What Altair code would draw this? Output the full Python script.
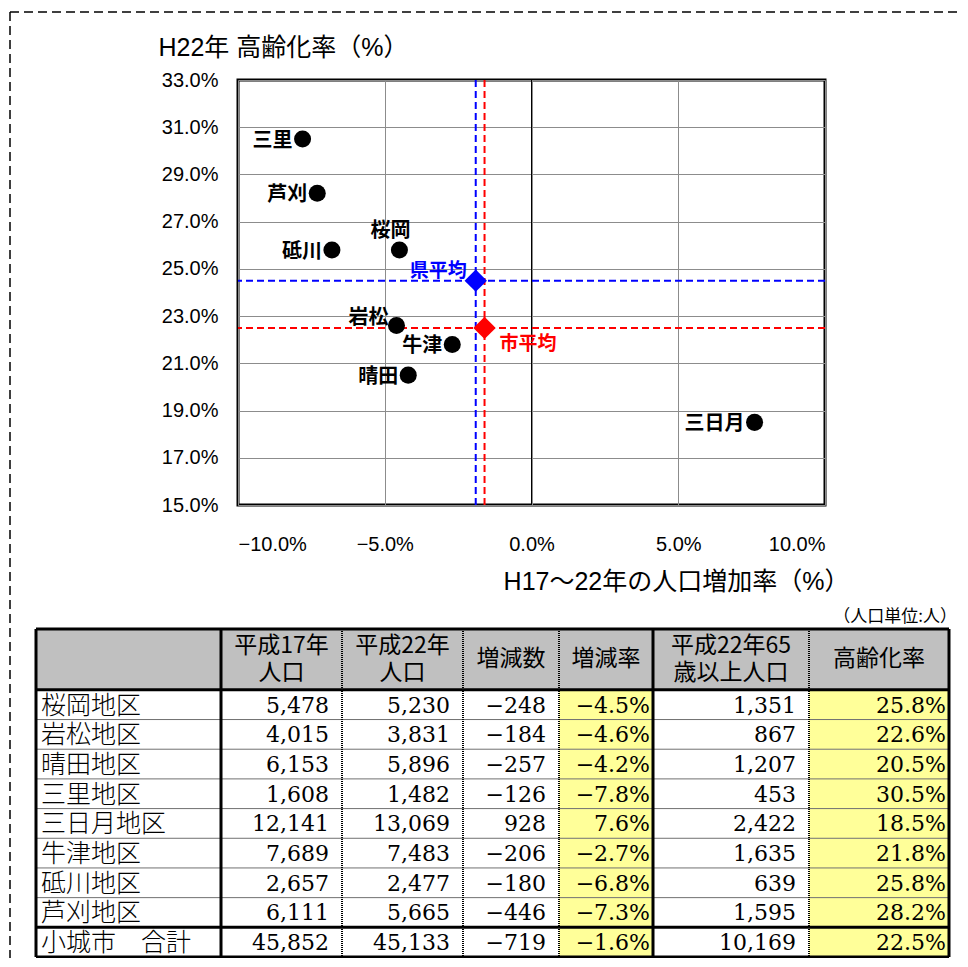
import altair as alt
import pandas as pd

# ------------------------------------------------------------------ data
districts = ["桜岡地区", "岩松地区", "晴田地区", "三里地区", "三日月地区",
             "牛津地区", "砥川地区", "芦刈地区", "小城市　合計"]
point_labels = ["桜岡", "岩松", "晴田", "三里", "三日月", "牛津", "砥川", "芦刈"]
pop_h17 = [5478, 4015, 6153, 1608, 12141, 7689, 2657, 6111, 45852]
pop_h22 = [5230, 3831, 5896, 1482, 13069, 7483, 2477, 5665, 45133]
pop_change = [-248, -184, -257, -126, 928, -206, -180, -446, -719]
change_rate = [-4.5, -4.6, -4.2, -7.8, 7.6, -2.7, -6.8, -7.3, -1.6]
pop_65 = [1351, 867, 1207, 453, 2422, 1635, 639, 1595, 10169]
aging_rate = [25.8, 22.6, 20.5, 30.5, 18.5, 21.8, 25.8, 28.2, 22.5]

pref_avg_label, pref_avg_rate, pref_avg_aging = "県平均", -1.9, 24.5
city_avg_label = "市平均"  # = 小城市 合計 row

headers = ["", "平成17年\n人口", "平成22年\n人口", "増減数", "増減率",
           "平成22年65\n歳以上人口", "高齢化率"]
x_ticks = [-10, -5, 0, 5, 10]
y_ticks = [15, 17, 19, 21, 23, 25, 27, 29, 31, 33]
x_title = "H17～22年の人口増加率（%）"
y_title = "H22年 高齢化率（%）"
unit_note = "（人口単位:人）"

# ------------------------------------------------------------------ layout / style
PW, PH = 587, 425
PAD = {"left": 230, "top": 72, "right": 135, "bottom": 453}
COL_W = [185, 121, 121, 96, 94, 156, 140]
PCT_COLS = (4, 6)
HEADER_H = 2.05
TABLE_X_RANGE = [-202, 711]
TABLE_Y_RANGE = [549, 877]
LATIN = "Liberation Sans, Noto Sans CJK JP"
JP = "Noto Sans CJK JP"
SERIF = "DejaVu Serif, Noto Sans CJK JP"
GRID = "#8c8c8c"
YELLOW = "#ffff99"
HEAD_BG = "#c0c0c0"

# ------------------------------------------------------------------ scatter
xs = alt.Scale(domain=[-10, 10], nice=False, zero=False)
ys = alt.Scale(domain=[15, 33], nice=False, zero=False)

x_axis = alt.Axis(values=x_ticks, labelExpr="format(datum.value, '.1f') + '%'",
                  grid=True, gridColor=GRID, gridWidth=1, ticks=False, domain=False,
                  labelFont=LATIN, labelFontSize=20, labelPadding=29, labelColor="black",
                  title=x_title, titleFont=LATIN, titleFontSize=25, titleFontWeight="normal",
                  titleColor="black", titleX=PW + 24, titleY=76, titleAlign="right",
                  titleBaseline="middle")
y_axis = alt.Axis(values=y_ticks, labelExpr="format(datum.value, '.1f') + '%'",
                  grid=True, gridColor=GRID, gridWidth=1, ticks=False, domain=False,
                  labelFont=LATIN, labelFontSize=20, labelPadding=20, labelColor="black",
                  title=y_title, titleFont=LATIN, titleFontSize=25, titleFontWeight="normal",
                  titleColor="black", titleAngle=0, titleX=-80, titleY=-33,
                  titleAlign="left", titleBaseline="middle")

X = alt.X("rate:Q", scale=xs, axis=x_axis)
Y = alt.Y("aging:Q", scale=ys, axis=y_axis)

pts = pd.DataFrame({"label": point_labels, "rate": change_rate[:8], "aging": aging_rate[:8]})
avg = pd.DataFrame({
    "label": [pref_avg_label, city_avg_label],
    "rate": [pref_avg_rate, change_rate[-1]],
    "aging": [pref_avg_aging, aging_rate[-1]],
    "color": ["#0000ff", "#ff0000"],
})
zero = pd.DataFrame({"rate": [0]})

base = alt.Chart(pts)
points = base.mark_circle(size=290, color="black", opacity=1).encode(x=X, y=Y)

lab_font = dict(font=JP, fontSize=20, fontWeight="bold", color="black", baseline="middle")
lab_left = base.transform_filter(
    alt.FieldOneOfPredicate(field="label", oneOf=["三里", "芦刈", "砥川", "牛津", "晴田", "三日月"])
).mark_text(align="right", dx=-10, dy=2, **lab_font).encode(x=X, y=Y, text="label:N")
lab_iwamatsu = base.transform_filter(alt.datum.label == "岩松").mark_text(
    align="right", dx=-8, dy=-8, **lab_font).encode(x=X, y=Y, text="label:N")
lab_sakuraoka = base.transform_filter(alt.datum.label == "桜岡").mark_text(
    align="center", dx=-9, dy=-19, **lab_font).encode(x=X, y=Y, text="label:N")

zero_line = alt.Chart(zero).mark_rule(color="black", strokeWidth=1).encode(x=X)

abase = alt.Chart(avg)
col = alt.Color("color:N", scale=None)
h_dash = abase.mark_rule(strokeDash=[7, 4], strokeWidth=2).encode(y=Y, color=col)
v_dash = abase.mark_rule(strokeDash=[7, 4], strokeWidth=2).encode(x=X, color=col)
diamonds = abase.mark_point(shape="diamond", filled=True, size=500, opacity=1).encode(
    x=X, y=Y, color=col)
pref_lab = abase.transform_filter(alt.datum.label == pref_avg_label).mark_text(
    align="right", dx=-9, dy=-10, font=JP, fontSize=19, fontWeight="bold",
    baseline="middle").encode(x=X, y=Y, text="label:N", color=col)
city_lab = abase.transform_filter(alt.datum.label == city_avg_label).mark_text(
    align="left", dx=15, dy=16, font=JP, fontSize=19, fontWeight="bold",
    baseline="middle").encode(x=X, y=Y, text="label:N", color=col)

scatter = alt.layer(zero_line, h_dash, v_dash, points, diamonds,
                    lab_left, lab_iwamatsu, lab_sakuraoka, pref_lab, city_lab)

# ------------------------------------------------------------------ table
edges = [0]
for w in COL_W:
    edges.append(edges[-1] + w)
TW = edges[-1]
NR = len(districts)
TH = HEADER_H + NR

tx = alt.Scale(domain=[0, TW], range=TABLE_X_RANGE, nice=False, zero=False)
ty = alt.Scale(domain=[0, TH], range=TABLE_Y_RANGE, nice=False, zero=False)
TX = lambda f: alt.X(f, scale=tx, axis=None)
TY = lambda f: alt.Y(f, scale=ty, axis=None)


def fmt_int(v):
    s = f"{abs(v):,}"
    return "−" + s if v < 0 else s


def fmt_pct(v):
    s = f"{abs(v):.1f}%"
    return "−" + s if v < 0 else s


cells = [{"x0": 0, "x1": TW, "y0": 0, "y1": HEADER_H, "fill": HEAD_BG}]
for i in range(NR):
    for c in range(len(COL_W)):
        cells.append({"x0": edges[c], "x1": edges[c + 1], "y0": HEADER_H + i,
                      "y1": HEADER_H + i + 1,
                      "fill": YELLOW if c in PCT_COLS else "white"})
cells = pd.DataFrame(cells)
cell_rects = alt.Chart(cells).mark_rect(strokeWidth=0).encode(
    x=TX("x0:Q"), x2="x1:Q", y=TY("y0:Q"), y2="y1:Q", fill=alt.Fill("fill:N", scale=None))

head_df = pd.DataFrame({"x": [(edges[c] + edges[c + 1]) / 2 for c in range(len(headers))],
                        "y": [HEADER_H / 2] * len(headers), "t": headers,
                        "multi": ["\n" in h for h in headers]})
head_style = dict(font=JP, fontSize=23, color="black", lineBreak="\n", lineHeight=27,
                  baseline="middle", align="center")
head_one = alt.Chart(head_df).transform_filter("!datum.multi").mark_text(**head_style).encode(
    x=TX("x:Q"), y=TY("y:Q"), text="t:N")
head_two = alt.Chart(head_df).transform_filter("datum.multi").mark_text(
    dy=-13, **head_style).encode(x=TX("x:Q"), y=TY("y:Q"), text="t:N")

name_df = pd.DataFrame({"x": [0] * NR, "y": [HEADER_H + i + 0.5 for i in range(NR)],
                        "t": districts})
name_text = alt.Chart(name_df).mark_text(font=JP, fontSize=25, fontWeight=300, color="black",
                                         align="left", baseline="middle", dx=5, dy=1).encode(
    x=TX("x:Q"), y=TY("y:Q"), text="t:N")

nums = []
for i in range(NR):
    vals = [fmt_int(pop_h17[i]), fmt_int(pop_h22[i]), fmt_int(pop_change[i]),
            fmt_pct(change_rate[i]), fmt_int(pop_65[i]), fmt_pct(aging_rate[i])]
    for c, v in enumerate(vals, start=1):
        nums.append({"x": edges[c + 1], "y": HEADER_H + i + 0.5, "t": v,
                     "pct": c in PCT_COLS})
nums = pd.DataFrame(nums)
num_style = dict(font=SERIF, fontSize=22, color="black", align="right", baseline="middle", dy=1)
num_int = alt.Chart(nums).transform_filter("!datum.pct").mark_text(dx=-13, **num_style).encode(
    x=TX("x:Q"), y=TY("y:Q"), text="t:N")
num_pct = alt.Chart(nums).transform_filter("datum.pct").mark_text(dx=-3, **num_style).encode(
    x=TX("x:Q"), y=TY("y:Q"), text="t:N")

thin_h = pd.DataFrame({"x0": [0] * (NR - 2), "x1": [TW] * (NR - 2),
                       "y": [HEADER_H + i for i in range(1, NR - 1)]})
thin_lines = alt.Chart(thin_h).mark_rule(color="#707070", strokeWidth=1).encode(
    x=TX("x0:Q"), x2="x1:Q", y=TY("y:Q"))

dot_v = pd.DataFrame({"x": [edges[2], edges[3], edges[4], edges[6]], "y0": [0] * 4,
                      "y1": [TH] * 4})
dot_lines = alt.Chart(dot_v).mark_rule(color="black", strokeWidth=2, strokeDash=[1, 1]).encode(
    x=TX("x:Q"), y=TY("y0:Q"), y2="y1:Q")

thick_h = pd.DataFrame({"x0": [0] * 4, "x1": [TW] * 4, "y": [0, HEADER_H, TH - 1, TH]})
thick_h_lines = alt.Chart(thick_h).mark_rule(color="black", strokeWidth=3).encode(
    x=TX("x0:Q"), x2="x1:Q", y=TY("y:Q"))
thick_v = pd.DataFrame({"x": [0, edges[1], edges[5], TW], "y0": [0] * 4, "y1": [TH] * 4})
thick_v_lines = alt.Chart(thick_v).mark_rule(color="black", strokeWidth=3).encode(
    x=TX("x:Q"), y=TY("y0:Q"), y2="y1:Q")

note_df = pd.DataFrame({"x": [TW], "y": [-0.4], "t": [unit_note]})
note_text = alt.Chart(note_df).mark_text(font=JP, fontSize=17, color="black", align="right",
                                         baseline="middle", dx=8).encode(
    x=TX("x:Q"), y=TY("y:Q"), text="t:N")

table = alt.layer(cell_rects, thin_lines, dot_lines, thick_h_lines, thick_v_lines,
                  head_one, head_two, name_text, num_int, num_pct, note_text)

# ------------------------------------------------------------------ outer dashed frame
one = pd.DataFrame({"k": [0]})
frame_style = dict(color="black", strokeWidth=1.5, strokeDash=[9, 5])
frame_left = alt.Chart(one).mark_rule(**frame_style).encode(
    x=alt.value(-228), y=alt.value(-68), y2=alt.value(880))
frame_top = alt.Chart(one).mark_rule(**frame_style).encode(
    x=alt.value(-228), x2=alt.value(730), y=alt.value(-68))

chart = alt.layer(scatter, table, frame_left, frame_top).resolve_scale(
    x="independent", y="independent"
).properties(
    width=PW, height=PH, padding=PAD, autosize=alt.AutoSizeParams(type="none"),
    background="white"
).configure_view(stroke="black", strokeWidth=3)

chart.save("out.html", embed_options={"renderer": "svg", "actions": False})
